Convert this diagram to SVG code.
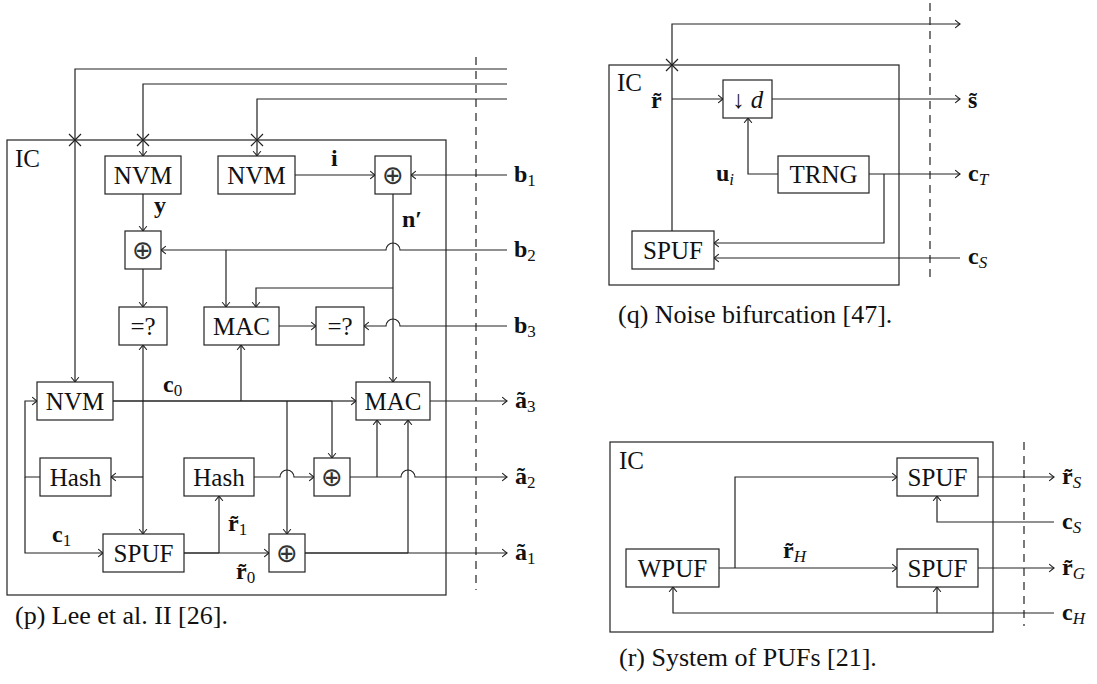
<svg xmlns="http://www.w3.org/2000/svg" width="1097" height="684" viewBox="0 0 1097 684">
<style>
.ln{fill:none;stroke:#222;stroke-width:1.2}
.tk{stroke-width:1.7}
.box{fill:#fff;stroke:#222;stroke-width:1.2}
.frame{fill:none;stroke:#222;stroke-width:1.2}
.dash{fill:none;stroke:#222;stroke-width:1.2;stroke-dasharray:8 6}
.nl{font-family:"Liberation Serif",serif;font-size:25px;text-anchor:middle;fill:#111}
.ic{font-family:"Liberation Serif",serif;font-size:25px;fill:#111}
.cap{font-family:"Liberation Serif",serif;font-size:26px;fill:#111}
.m{font-family:"Liberation Serif",serif;font-weight:bold;font-size:24px;fill:#111}
.sub{font-weight:normal;font-size:17px}
.it{font-style:italic}
.xor{font-family:"DejaVu Sans",sans-serif;font-size:26px;text-anchor:middle;fill:#333}
</style>
<defs>
<marker id="ah" markerUnits="userSpaceOnUse" markerWidth="12" markerHeight="12" viewBox="-6 -6 12 12" refX="0" refY="0" orient="auto" overflow="visible">
<path d="M-4.5,-3.6 Q-1.5,-1 0,0 Q-1.5,1 -4.5,3.6" fill="none" stroke="#222" stroke-width="1.1" stroke-linecap="round"/>
</marker>
<path id="cross" d="M-6,-6 L6,6 M-6,6 L6,-6" fill="none" stroke="#222" stroke-width="1.2"/>
</defs>

<!-- ===== (p) Lee et al. II ===== -->
<g id="p-frame">
<rect class="frame" x="7" y="140" width="439" height="455"/>
<text class="ic" x="15" y="167">IC</text>
<line class="dash" x1="476" y1="57" x2="476" y2="590"/>
</g>
<g id="p-connectors">
<path class="ln" d="M507,69 H75 V382" marker-end="url(#ah)"/>
<path class="ln" d="M507,84 H143 V156" marker-end="url(#ah)"/>
<path class="ln" d="M507,99 H257 V156" marker-end="url(#ah)"/>
<use href="#cross" x="75" y="140"/>
<use href="#cross" x="143" y="140"/>
<use href="#cross" x="257" y="140"/>
<path class="ln" d="M295,175 H375" marker-end="url(#ah)"/>
<path class="ln" d="M507,175 H411" marker-end="url(#ah)"/>
<path class="ln" d="M143,194 V231" marker-end="url(#ah)"/>
<path class="ln" d="M507,250 H400 A7,7 0 0 0 386,250 H161" marker-end="url(#ah)"/>
<path class="ln" d="M226,250 V307" marker-end="url(#ah)"/>
<path class="ln" d="M393,194 V382" marker-end="url(#ah)"/>
<path class="ln" d="M393,288 H256 V307" marker-end="url(#ah)"/>
<path class="ln" d="M143,269 V307" marker-end="url(#ah)"/>
<path class="ln" d="M279,326 H316" marker-end="url(#ah)"/>
<path class="ln" d="M507,326 H400 A7,7 0 0 0 386,326 H364" marker-end="url(#ah)"/>
<path class="ln tk" d="M113,401 H332"/>
<path class="ln" d="M332,401 H356" marker-end="url(#ah)"/>
<path class="ln" d="M241,401 V345" marker-end="url(#ah)"/>
<path class="ln" d="M143,401 V345" marker-end="url(#ah)"/>
<path class="ln" d="M143,401 V534" marker-end="url(#ah)"/>
<path class="ln" d="M143,477 H111" marker-end="url(#ah)"/>
<path class="ln" d="M40,477 H25 V401 H37" marker-end="url(#ah)"/>
<path class="ln" d="M25,477 V553 H103" marker-end="url(#ah)"/>
<path class="ln" d="M430,401 H507" marker-end="url(#ah)"/>
<path class="ln" d="M287,401 V534" marker-end="url(#ah)"/>
<path class="ln" d="M332,401 V458" marker-end="url(#ah)"/>
<path class="ln tk" d="M184,553 H219"/>
<path class="ln" d="M219,553 H269" marker-end="url(#ah)"/>
<path class="ln" d="M219,553 V496" marker-end="url(#ah)"/>
<path class="ln" d="M254,477 H280 A7,7 0 0 1 294,477 H314" marker-end="url(#ah)"/>
<path class="ln" d="M350,477 H401 A7,7 0 0 1 415,477 H507" marker-end="url(#ah)"/>
<path class="ln" d="M377,477 V420" marker-end="url(#ah)"/>
<path class="ln tk" d="M305,553 H408"/>
<path class="ln" d="M408,553 H507" marker-end="url(#ah)"/>
<path class="ln" d="M408,553 V420" marker-end="url(#ah)"/>
<text class="m" x="154" y="213">y</text>
<text class="m" x="331" y="166">i</text>
<text class="m" x="402" y="227">n′</text>
<text class="m" x="163" y="392">c<tspan class="sub" dy="4">0</tspan></text>
<text class="m" x="52" y="542">c<tspan class="sub" dy="4">1</tspan></text>
<text class="m" x="228" y="531">r̃<tspan class="sub" dy="4">1</tspan></text>
<text class="m" x="236" y="579">r̃<tspan class="sub" dy="4">0</tspan></text>
<text class="m" x="514" y="182">b<tspan class="sub" dy="4">1</tspan></text>
<text class="m" x="514" y="257">b<tspan class="sub" dy="4">2</tspan></text>
<text class="m" x="514" y="333">b<tspan class="sub" dy="4">3</tspan></text>
<text class="m" x="515" y="408">ã<tspan class="sub" dy="4">3</tspan></text>
<text class="m" x="515" y="484">ã<tspan class="sub" dy="4">2</tspan></text>
<text class="m" x="515" y="560">ã<tspan class="sub" dy="4">1</tspan></text>
</g>
<g id="p-nvm1"><rect class="box" x="105" y="156" width="76" height="38"/><text class="nl" x="143" y="184">NVM</text></g>
<g id="p-nvm2"><rect class="box" x="218" y="156" width="77" height="38"/><text class="nl" x="256.5" y="184">NVM</text></g>
<g id="p-xor1"><rect class="box" x="375" y="156" width="36" height="38"/><text class="xor" x="393" y="184">⊕</text></g>
<g id="p-xor2"><rect class="box" x="125" y="231" width="36" height="38"/><text class="xor" x="143" y="259">⊕</text></g>
<g id="p-eq1"><rect class="box" x="119" y="307" width="48" height="38"/><text class="nl" x="143" y="335">=?</text></g>
<g id="p-mac1"><rect class="box" x="204" y="307" width="75" height="38"/><text class="nl" x="241.5" y="335">MAC</text></g>
<g id="p-eq2"><rect class="box" x="316" y="307" width="48" height="38"/><text class="nl" x="340" y="335">=?</text></g>
<g id="p-nvm3"><rect class="box" x="37" y="382" width="76" height="38"/><text class="nl" x="75" y="410">NVM</text></g>
<g id="p-mac2"><rect class="box" x="356" y="382" width="74" height="38"/><text class="nl" x="393" y="410">MAC</text></g>
<g id="p-hash1"><rect class="box" x="40" y="458" width="71" height="38"/><text class="nl" x="75.5" y="486">Hash</text></g>
<g id="p-hash2"><rect class="box" x="184" y="458" width="70" height="38"/><text class="nl" x="219" y="486">Hash</text></g>
<g id="p-xor3"><rect class="box" x="314" y="458" width="36" height="38"/><text class="xor" x="332" y="486">⊕</text></g>
<g id="p-spuf"><rect class="box" x="103" y="534" width="81" height="38"/><text class="nl" x="143.5" y="562">SPUF</text></g>
<g id="p-xor4"><rect class="box" x="269" y="534" width="36" height="38"/><text class="xor" x="287" y="562">⊕</text></g>
<text class="cap" x="15" y="624">(p) Lee et al. II [26].</text>

<!-- ===== (q) Noise bifurcation ===== -->
<g id="q-frame">
<rect class="frame" x="609" y="65" width="290" height="220"/>
<text class="ic" x="617" y="91">IC</text>
<line class="dash" x1="930" y1="3" x2="930" y2="282"/>
</g>
<g id="q-connectors">
<path class="ln" d="M672,231 V24 H960" marker-end="url(#ah)"/>
<use href="#cross" x="672" y="65"/>
<path class="ln" d="M672,99 H723" marker-end="url(#ah)"/>
<path class="ln" d="M772,99 H960" marker-end="url(#ah)"/>
<path class="ln" d="M778,174 H748 V118" marker-end="url(#ah)"/>
<path class="ln" d="M869,174 H960" marker-end="url(#ah)"/>
<path class="ln" d="M884,174 V243 H714" marker-end="url(#ah)"/>
<path class="ln" d="M960,258 H714" marker-end="url(#ah)"/>
<text class="m" x="651" y="108">r̃</text>
<text class="m" x="968" y="108">s̃</text>
<text class="m" x="716" y="181">u<tspan class="sub it" dy="4">i</tspan></text>
<text class="m" x="968" y="181">c<tspan class="sub it" dy="4">T</tspan></text>
<text class="m" x="968" y="264">c<tspan class="sub it" dy="4">S</tspan></text>
</g>
<g id="q-down"><rect class="box" x="723" y="80" width="49" height="38"/><text class="nl" x="747.5" y="108">↓<tspan class="it"> d</tspan></text></g>
<g id="q-trng"><rect class="box" x="778" y="156" width="91" height="37"/><text class="nl" x="823.5" y="183">TRNG</text></g>
<g id="q-spuf"><rect class="box" x="632" y="231" width="82" height="38"/><text class="nl" x="673" y="259">SPUF</text></g>
<text class="cap" x="618" y="323">(q) Noise bifurcation [47].</text>

<!-- ===== (r) System of PUFs ===== -->
<g id="r-frame">
<rect class="frame" x="610" y="442" width="383" height="190"/>
<text class="ic" x="619" y="469">IC</text>
<line class="dash" x1="1024" y1="442" x2="1024" y2="626"/>
</g>
<g id="r-connectors">
<path class="ln" d="M719,568 H897" marker-end="url(#ah)"/>
<path class="ln" d="M735,568 V477 H897" marker-end="url(#ah)"/>
<path class="ln" d="M978,477 H1054" marker-end="url(#ah)"/>
<path class="ln" d="M1054,522 H937 V496" marker-end="url(#ah)"/>
<path class="ln" d="M978,568 H1054" marker-end="url(#ah)"/>
<path class="ln" d="M1054,613 H673 V587" marker-end="url(#ah)"/>
<path class="ln" d="M937,613 V587" marker-end="url(#ah)"/>
<text class="m" x="783" y="558">r̃<tspan class="sub it" dy="4">H</tspan></text>
<text class="m" x="1062" y="484">r̃<tspan class="sub it" dy="4">S</tspan></text>
<text class="m" x="1062" y="529">c<tspan class="sub it" dy="4">S</tspan></text>
<text class="m" x="1062" y="575">r̃<tspan class="sub it" dy="4">G</tspan></text>
<text class="m" x="1062" y="620">c<tspan class="sub it" dy="4">H</tspan></text>
</g>
<g id="r-wpuf"><rect class="box" x="626" y="549" width="93" height="38"/><text class="nl" x="672.5" y="577">WPUF</text></g>
<g id="r-spuf1"><rect class="box" x="897" y="458" width="81" height="38"/><text class="nl" x="937.5" y="486">SPUF</text></g>
<g id="r-spuf2"><rect class="box" x="897" y="549" width="81" height="38"/><text class="nl" x="937.5" y="577">SPUF</text></g>
<text class="cap" x="619" y="666">(r) System of PUFs [21].</text>
</svg>
